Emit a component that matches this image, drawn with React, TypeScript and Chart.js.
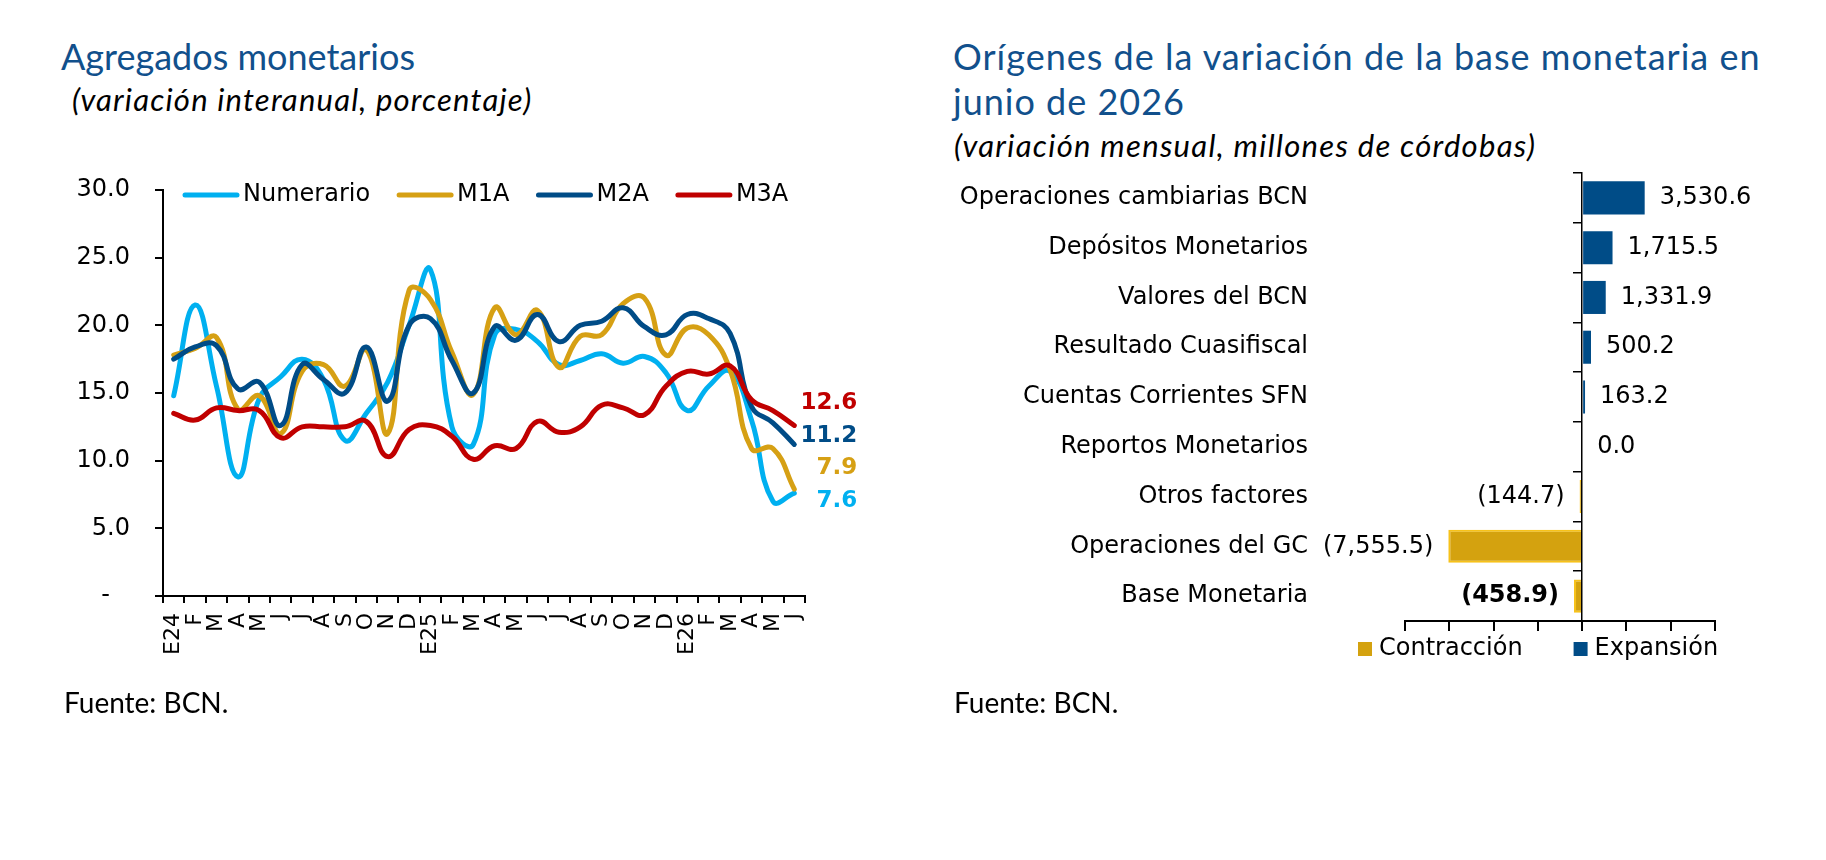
import React, { useEffect, useRef } from 'react';
import { Chart, registerables } from 'chart.js';

Chart.register(...registerables);

// ---------------- Data: left chart ----------------
const MONTHS = [
  'E24', 'F', 'M', 'A', 'M', 'J', 'J', 'A', 'S', 'O', 'N', 'D',
  'E25', 'F', 'M', 'A', 'M', 'J', 'J', 'A', 'S', 'O', 'N', 'D',
  'E26', 'F', 'M', 'A', 'M', 'J',
];
const NUMERARIO = [
  14.8, 21.5, 15.5, 8.8, 14.6, 16.2, 17.5, 16.0, 11.5, 13.5, 15.8, 20.0,
  24.1, 12.5, 11.2, 19.3, 19.7, 18.8, 17.1, 17.4, 17.9, 17.2, 17.7, 16.5,
  13.7, 15.5, 16.6, 13.0, 7.0, 7.6,
];
const M1A = [
  17.8, 18.3, 19.1, 13.8, 14.8, 12.0, 16.6, 17.1, 15.5, 18.2, 12.0, 22.6,
  21.9, 18.0, 14.9, 21.3, 19.3, 21.1, 16.9, 19.2, 19.3, 21.6, 22.0, 17.8,
  19.8, 19.3, 16.7, 10.9, 10.9, 7.9,
];
const M2A = [
  17.5, 18.4, 18.5, 15.3, 15.8, 12.6, 17.1, 16.0, 15.0, 18.4, 14.4, 20.0,
  20.5, 17.4, 15.0, 19.9, 18.9, 20.8, 18.8, 20.0, 20.3, 21.3, 19.9, 19.3,
  20.8, 20.5, 19.4, 14.0, 12.8, 11.2,
];
const M3A = [
  13.5, 13.0, 13.9, 13.7, 13.7, 11.7, 12.5, 12.5, 12.5, 12.9, 10.3, 12.3,
  12.6, 11.8, 10.1, 11.1, 10.9, 12.9, 12.1, 12.5, 14.1, 13.9, 13.4, 15.5,
  16.6, 16.4, 17.0, 14.5, 13.7, 12.6,
];
const SERIES_NAMES = ['Numerario', 'M1A', 'M2A', 'M3A'];
const Y_MIN = 0;
const Y_MAX = 30;
const Y_STEP = 5;

// ---------------- Data: right chart ----------------
const BAR_CATEGORIES = [
  'Operaciones cambiarias BCN',
  'Depósitos Monetarios',
  'Valores del BCN',
  'Resultado Cuasifiscal',
  'Cuentas Corrientes SFN',
  'Reportos Monetarios',
  'Otros factores',
  'Operaciones del GC',
  'Base Monetaria',
];
const EXPANSION = [3530.6, 1715.5, 1331.9, 500.2, 163.2, 0.0, null, null, null];
const CONTRACTION = [null, null, null, null, null, null, -144.7, -7555.5, -458.9];
const BAR_SERIES_NAMES = ['Contracción', 'Expansión'];
const BOLD_CATEGORY = 'Base Monetaria';
const X_MIN = -10000;
const X_MAX = 7500;
const X_STEP = 2500;

// ---------------- Styles ----------------
const FONT = '"DejaVu Sans", Verdana, sans-serif';
const TITLE_FONT = 'Lato, "Open Sans", sans-serif';
const TITLE_COLOR = '#11508C';
const C_NUM = '#00B0F0';
const C_M1 = '#D6A014';
const C_M2 = '#004C87';
const C_M3 = '#C00000';
const C_EXP = '#004C87';
const C_CON = '#D4A20F';

function spread(desired: number[], gap: number): number[] {
  type Cl = { start: number; end: number; sum: number };
  const clusters: Cl[] = desired.map((d, i) => ({ start: i, end: i, sum: d }));
  const top = (c: Cl) => {
    const n = c.end - c.start + 1;
    return c.sum / n - ((n - 1) * gap) / 2;
  };
  let changed = true;
  while (changed) {
    changed = false;
    for (let k = 0; k < clusters.length - 1; k++) {
      const a = clusters[k];
      const b = clusters[k + 1];
      const aBottom = top(a) + (a.end - a.start) * gap;
      if (top(b) - aBottom < gap) {
        clusters.splice(k, 2, { start: a.start, end: b.end, sum: a.sum + b.sum });
        changed = true;
        break;
      }
    }
  }
  const out: number[] = [];
  clusters.forEach((c) => {
    const t = top(c);
    for (let i = c.start; i <= c.end; i++) out.push(t + (i - c.start) * gap);
  });
  return out;
}

const lineLegendPlugin = {
  id: 'lineLegend',
  afterDraw(chart: any) {
    const ctx = chart.ctx;
    ctx.save();
    ctx.font = `24px ${FONT}`;
    ctx.textBaseline = 'middle';
    ctx.textAlign = 'left';
    let x = 185;
    const y = 195;
    chart.data.datasets.forEach((ds: any) => {
      ctx.strokeStyle = ds.borderColor;
      ctx.lineWidth = 5;
      ctx.lineCap = 'round';
      ctx.beginPath();
      ctx.moveTo(x, y);
      ctx.lineTo(x + 52, y);
      ctx.stroke();
      x += 58;
      ctx.fillStyle = '#000';
      ctx.fillText(ds.label, x, y);
      x += ctx.measureText(ds.label).width + 29;
    });
    ctx.restore();
  },
};

const endLabelPlugin = {
  id: 'endLabels',
  afterDatasetsDraw(chart: any) {
    const ctx = chart.ctx;
    const items = chart.data.datasets
      .map((ds: any, i: number) => {
        const meta = chart.getDatasetMeta(i);
        const el = meta.data[meta.data.length - 1];
        const v = ds.data[ds.data.length - 1];
        return { text: Number(v).toFixed(1), color: ds.borderColor, x: el.x, y: el.y };
      })
      .sort((a: any, b: any) => a.y - b.y);
    const ys = spread(items.map((it: any) => it.y), 32.5);
    ctx.save();
    ctx.font = `bold 23px ${FONT}`;
    ctx.textAlign = 'right';
    ctx.textBaseline = 'middle';
    items.forEach((it: any, k: number) => {
      ctx.fillStyle = it.color;
      ctx.fillText(it.text, it.x + 63, ys[k] - 11);
    });
    ctx.restore();
  },
};

const fmt = (v: number) => {
  const s = Math.abs(v).toLocaleString('en-US', { minimumFractionDigits: 1, maximumFractionDigits: 1 });
  return v < 0 ? `(${s})` : s;
};

const barLabelPlugin = {
  id: 'barLabels',
  afterDatasetsDraw(chart: any) {
    const ctx = chart.ctx;
    ctx.save();
    ctx.textBaseline = 'middle';
    chart.data.datasets.forEach((ds: any, i: number) => {
      const meta = chart.getDatasetMeta(i);
      ds.data.forEach((v: number | null, j: number) => {
        if (v === null || v === undefined) return;
        const el = meta.data[j];
        const bold = chart.data.labels[j] === BOLD_CATEGORY;
        ctx.font = `${bold ? 'bold ' : ''}24px ${FONT}`;
        ctx.fillStyle = '#000';
        if (v >= 0) {
          ctx.textAlign = 'left';
          ctx.fillText(fmt(v), el.x + 15, el.y);
        } else {
          ctx.textAlign = 'right';
          ctx.fillText(fmt(v), el.x - 15, el.y);
        }
      });
    });
    ctx.restore();
  },
};

const barLegendPlugin = {
  id: 'barLegend',
  afterDraw(chart: any) {
    const ctx = chart.ctx;
    ctx.save();
    ctx.font = `24px ${FONT}`;
    ctx.textBaseline = 'middle';
    ctx.textAlign = 'left';
    let x = 458;
    const y = 649;
    chart.data.datasets.forEach((ds: any) => {
      ctx.fillStyle = ds.backgroundColor;
      ctx.fillRect(x, y - 7, 14, 14);
      x += 21;
      ctx.fillStyle = '#000';
      ctx.fillText(ds.label, x, y);
      x += ctx.measureText(ds.label).width + 51;
    });
    ctx.restore();
  },
};

function LineChart() {
  const ref = useRef<HTMLCanvasElement>(null);
  useEffect(() => {
    const chart = new Chart(ref.current as HTMLCanvasElement, {
      type: 'line',
      data: {
        labels: MONTHS,
        datasets: [
          { label: SERIES_NAMES[0], data: NUMERARIO, borderColor: C_NUM, order: 4 },
          { label: SERIES_NAMES[1], data: M1A, borderColor: C_M1, order: 3 },
          { label: SERIES_NAMES[2], data: M2A, borderColor: C_M2, order: 2 },
          { label: SERIES_NAMES[3], data: M3A, borderColor: C_M3, order: 1 },
        ].map((d) => ({
          ...d,
          backgroundColor: d.borderColor,
          borderWidth: 5,
          pointRadius: 0,
          tension: 0.45,
          fill: false,
          borderCapStyle: 'round' as const,
          borderJoinStyle: 'round' as const,
        })),
      },
      options: {
        responsive: false,
        animation: false,
        devicePixelRatio: 1,
        layout: { padding: { top: 190, right: 95, left: 0, bottom: 0 } },
        plugins: { legend: { display: false }, tooltip: { enabled: false } },
        scales: {
          x: {
            type: 'category',
            offset: true,
            grid: { offset: true, drawOnChartArea: false, tickLength: 7, color: '#000', lineWidth: 2 },
            border: { color: '#000', width: 2 },
            ticks: {
              autoSkip: false,
              maxRotation: 90,
              minRotation: 90,
              padding: 10,
              color: '#000',
              font: { family: FONT, size: 22 },
            },
            afterFit: (s: any) => {
              s.height = 104;
            },
          },
          y: {
            min: Y_MIN,
            max: Y_MAX,
            ticks: {
              stepSize: Y_STEP,
              padding: 25,
              color: '#000',
              font: { family: FONT, size: 24 },
              callback: (v: any) => (Number(v) === 0 ? '-  \u2009' : Number(v).toFixed(1)),
            },
            grid: { drawOnChartArea: false, tickLength: 8, color: '#000', lineWidth: 2 },
            border: { color: '#000', width: 2 },
            afterFit: (s: any) => {
              s.width = 163;
            },
          },
        },
      },
      plugins: [lineLegendPlugin, endLabelPlugin],
    } as any);
    return () => chart.destroy();
  }, []);
  return (
    <canvas
      ref={ref}
      width={900}
      height={700}
      style={{ position: 'absolute', left: 0, top: 0, width: 900, height: 700 }}
    />
  );
}

function BarChart() {
  const ref = useRef<HTMLCanvasElement>(null);
  useEffect(() => {
    const chart = new Chart(ref.current as HTMLCanvasElement, {
      type: 'bar',
      data: {
        labels: BAR_CATEGORIES,
        datasets: [
          {
            label: BAR_SERIES_NAMES[0],
            data: CONTRACTION,
            backgroundColor: C_CON,
            borderColor: '#F7C21A',
            borderWidth: 2,
            barPercentage: 0.83,
            categoryPercentage: 0.8,
          },
          {
            label: BAR_SERIES_NAMES[1],
            data: EXPANSION,
            backgroundColor: C_EXP,
            borderWidth: 0,
            barPercentage: 0.83,
            categoryPercentage: 0.8,
          },
        ],
      },
      options: {
        indexAxis: 'y',
        responsive: false,
        animation: false,
        devicePixelRatio: 1,
        layout: { padding: { top: 173, right: 111, left: 0, bottom: 0 } },
        plugins: { legend: { display: false }, tooltip: { enabled: false } },
        scales: {
          x: {
            type: 'linear',
            min: X_MIN,
            max: X_MAX,
            stacked: true,
            ticks: { display: false, stepSize: X_STEP },
            grid: { drawOnChartArea: false, tickLength: 10, color: '#000', lineWidth: 2 },
            border: { color: '#000', width: 2 },
            afterFit: (s: any) => {
              s.height = 79;
            },
          },
          y: {
            type: 'category',
            stacked: true,
            offset: true,
            grid: {
              display: true,
              drawOnChartArea: false,
              drawTicks: true,
              tickLength: 90,
              color: 'rgba(0,0,0,0)',
            },
            border: { display: false },
            ticks: { padding: 7, color: '#000', font: { family: FONT, size: 24 } },
            afterFit: (s: any) => {
              s.width = 505;
            },
          },
          y2: {
            type: 'category',
            axis: 'y',
            position: { x: 0 },
            offset: true,
            grid: { offset: true, drawOnChartArea: false, tickLength: 8, color: '#000', lineWidth: 1.5 },
            border: { display: true, color: '#000', width: 1.5 },
            ticks: { display: false },
            afterFit: (s: any) => {
              s.width = 0;
            },
          },
        },
      },
      plugins: [barLabelPlugin, barLegendPlugin],
    } as any);
    return () => chart.destroy();
  }, []);
  return (
    <canvas
      ref={ref}
      width={926}
      height={700}
      style={{ position: 'absolute', left: 900, top: 0, width: 926, height: 700 }}
    />
  );
}

const txt = (extra: React.CSSProperties): React.CSSProperties => ({
  position: 'absolute',
  whiteSpace: 'nowrap',
  margin: 0,
  ...extra,
});

export default function App() {
  return (
    <div
      style={{
        position: 'absolute',
        left: 0,
        top: 0,
        width: 1826,
        height: 860,
        background: '#fff',
        overflow: 'hidden',
      }}
    >
      <div style={txt({ left: 61, top: 38, fontFamily: TITLE_FONT, fontSize: 36, lineHeight: '36px', color: TITLE_COLOR })}>
        Agregados monetarios
      </div>
      <div
        style={txt({
          left: 72,
          top: 84,
          fontFamily: TITLE_FONT,
          fontSize: 31,
          lineHeight: '31px',
          fontStyle: 'italic',
          letterSpacing: '1.2px',
          color: '#000',
        })}
      >
        (variación interanual, porcentaje)
      </div>
      <div
        style={txt({
          left: 953,
          top: 34,
          fontFamily: TITLE_FONT,
          fontSize: 36,
          lineHeight: '45px',
          letterSpacing: '1px',
          color: TITLE_COLOR,
        })}
      >
        Orígenes de la variación de la base monetaria en
        <br />
        junio de 2026
      </div>
      <div
        style={txt({
          left: 954,
          top: 130,
          fontFamily: TITLE_FONT,
          fontSize: 31,
          lineHeight: '31px',
          fontStyle: 'italic',
          letterSpacing: '1.3px',
          color: '#000',
        })}
      >
        (variación mensual, millones de córdobas)
      </div>
      <LineChart />
      <BarChart />
      <div style={txt({ left: 64, top: 688, fontFamily: TITLE_FONT, fontSize: 28, lineHeight: '28px', color: '#000' })}>
        Fuente: BCN.
      </div>
      <div style={txt({ left: 954, top: 688, fontFamily: TITLE_FONT, fontSize: 28, lineHeight: '28px', color: '#000' })}>
        Fuente: BCN.
      </div>
    </div>
  );
}
